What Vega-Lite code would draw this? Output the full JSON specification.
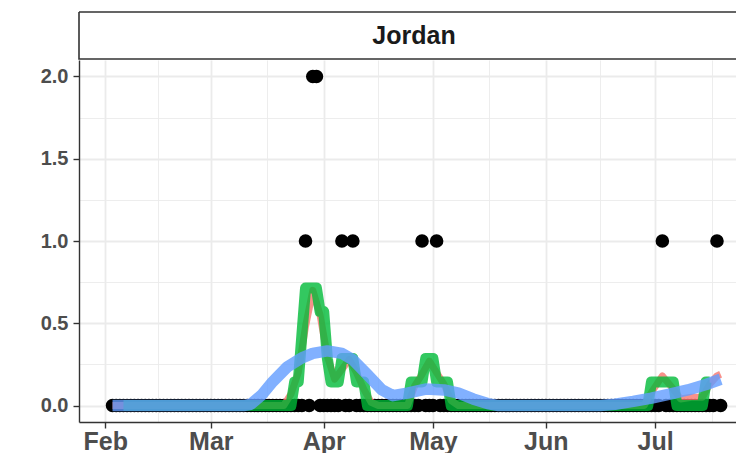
{
  "$schema": "https://vega.github.io/schema/vega-lite/v6.json",
  "padding": {"left": 5, "top": 11, "right": 0, "bottom": 0},
  "background": "white",
  "spacing": 0,
  "config": {"font": "Liberation Sans", "view": {"stroke": null}, "concat": {"spacing": 0}},
  "datasets": {
    "obs": [
      {"d":"2020-02-03","v":0},{"d":"2020-02-04","v":0},{"d":"2020-02-05","v":0},{"d":"2020-02-06","v":0},{"d":"2020-02-07","v":0},{"d":"2020-02-08","v":0},{"d":"2020-02-09","v":0},{"d":"2020-02-10","v":0},{"d":"2020-02-11","v":0},{"d":"2020-02-12","v":0},{"d":"2020-02-13","v":0},{"d":"2020-02-14","v":0},{"d":"2020-02-15","v":0},{"d":"2020-02-16","v":0},{"d":"2020-02-17","v":0},{"d":"2020-02-18","v":0},{"d":"2020-02-19","v":0},{"d":"2020-02-20","v":0},{"d":"2020-02-21","v":0},{"d":"2020-02-22","v":0},{"d":"2020-02-23","v":0},{"d":"2020-02-24","v":0},{"d":"2020-02-25","v":0},{"d":"2020-02-26","v":0},{"d":"2020-02-27","v":0},{"d":"2020-02-28","v":0},{"d":"2020-02-29","v":0},
      {"d":"2020-03-01","v":0},{"d":"2020-03-02","v":0},{"d":"2020-03-03","v":0},{"d":"2020-03-04","v":0},{"d":"2020-03-05","v":0},{"d":"2020-03-06","v":0},{"d":"2020-03-07","v":0},{"d":"2020-03-08","v":0},{"d":"2020-03-09","v":0},{"d":"2020-03-10","v":0},{"d":"2020-03-11","v":0},{"d":"2020-03-12","v":0},{"d":"2020-03-13","v":0},{"d":"2020-03-14","v":0},{"d":"2020-03-15","v":0},{"d":"2020-03-16","v":0},{"d":"2020-03-17","v":0},{"d":"2020-03-18","v":0},{"d":"2020-03-19","v":0},{"d":"2020-03-20","v":0},{"d":"2020-03-21","v":0},{"d":"2020-03-22","v":0},{"d":"2020-03-23","v":0},{"d":"2020-03-24","v":0},{"d":"2020-03-25","v":0},{"d":"2020-03-26","v":0},{"d":"2020-03-27","v":1},{"d":"2020-03-28","v":0},{"d":"2020-03-29","v":2},{"d":"2020-03-30","v":2},{"d":"2020-03-31","v":0},
      {"d":"2020-04-01","v":0},{"d":"2020-04-02","v":0},{"d":"2020-04-03","v":0},{"d":"2020-04-04","v":0},{"d":"2020-04-05","v":0},{"d":"2020-04-06","v":1},{"d":"2020-04-07","v":0},{"d":"2020-04-08","v":0},{"d":"2020-04-09","v":1},{"d":"2020-04-10","v":0},{"d":"2020-04-11","v":0},{"d":"2020-04-12","v":0},{"d":"2020-04-13","v":0},{"d":"2020-04-14","v":0},{"d":"2020-04-15","v":0},{"d":"2020-04-16","v":0},{"d":"2020-04-17","v":0},{"d":"2020-04-18","v":0},{"d":"2020-04-19","v":0},{"d":"2020-04-20","v":0},{"d":"2020-04-21","v":0},{"d":"2020-04-22","v":0},{"d":"2020-04-23","v":0},{"d":"2020-04-24","v":0},{"d":"2020-04-25","v":0},{"d":"2020-04-26","v":0},{"d":"2020-04-27","v":0},{"d":"2020-04-28","v":1},{"d":"2020-04-29","v":0},{"d":"2020-04-30","v":0},
      {"d":"2020-05-01","v":0},{"d":"2020-05-02","v":1},{"d":"2020-05-03","v":0},{"d":"2020-05-04","v":0},{"d":"2020-05-05","v":0},{"d":"2020-05-06","v":0},{"d":"2020-05-07","v":0},{"d":"2020-05-08","v":0},{"d":"2020-05-09","v":0},{"d":"2020-05-10","v":0},{"d":"2020-05-11","v":0},{"d":"2020-05-12","v":0},{"d":"2020-05-13","v":0},{"d":"2020-05-14","v":0},{"d":"2020-05-15","v":0},{"d":"2020-05-16","v":0},{"d":"2020-05-17","v":0},{"d":"2020-05-18","v":0},{"d":"2020-05-19","v":0},{"d":"2020-05-20","v":0},{"d":"2020-05-21","v":0},{"d":"2020-05-22","v":0},{"d":"2020-05-23","v":0},{"d":"2020-05-24","v":0},{"d":"2020-05-25","v":0},{"d":"2020-05-26","v":0},{"d":"2020-05-27","v":0},{"d":"2020-05-28","v":0},{"d":"2020-05-29","v":0},{"d":"2020-05-30","v":0},{"d":"2020-05-31","v":0},
      {"d":"2020-06-01","v":0},{"d":"2020-06-02","v":0},{"d":"2020-06-03","v":0},{"d":"2020-06-04","v":0},{"d":"2020-06-05","v":0},{"d":"2020-06-06","v":0},{"d":"2020-06-07","v":0},{"d":"2020-06-08","v":0},{"d":"2020-06-09","v":0},{"d":"2020-06-10","v":0},{"d":"2020-06-11","v":0},{"d":"2020-06-12","v":0},{"d":"2020-06-13","v":0},{"d":"2020-06-14","v":0},{"d":"2020-06-15","v":0},{"d":"2020-06-16","v":0},{"d":"2020-06-17","v":0},{"d":"2020-06-18","v":0},{"d":"2020-06-19","v":0},{"d":"2020-06-20","v":0},{"d":"2020-06-21","v":0},{"d":"2020-06-22","v":0},{"d":"2020-06-23","v":0},{"d":"2020-06-24","v":0},{"d":"2020-06-25","v":0},{"d":"2020-06-26","v":0},{"d":"2020-06-27","v":0},{"d":"2020-06-28","v":0},{"d":"2020-06-29","v":0},{"d":"2020-06-30","v":0},
      {"d":"2020-07-01","v":0},{"d":"2020-07-02","v":0},{"d":"2020-07-03","v":1},{"d":"2020-07-04","v":0},{"d":"2020-07-05","v":0},{"d":"2020-07-06","v":0},{"d":"2020-07-07","v":0},{"d":"2020-07-08","v":0},{"d":"2020-07-09","v":0},{"d":"2020-07-10","v":0},{"d":"2020-07-11","v":0},{"d":"2020-07-12","v":0},{"d":"2020-07-13","v":0},{"d":"2020-07-14","v":0},{"d":"2020-07-15","v":0},{"d":"2020-07-16","v":0},{"d":"2020-07-17","v":0},{"d":"2020-07-18","v":1},{"d":"2020-07-19","v":0}
    ],
    "red": [
      {"d":"2020-02-03","v":0},{"d":"2020-03-21","v":0},{"d":"2020-03-23","v":0.07},{"d":"2020-03-25","v":0.2},{"d":"2020-03-27","v":0.48},{"d":"2020-03-29","v":0.7},{"d":"2020-03-31","v":0.55},{"d":"2020-04-02","v":0.3},{"d":"2020-04-04","v":0.16},{"d":"2020-04-06","v":0.22},{"d":"2020-04-08","v":0.28},{"d":"2020-04-10","v":0.2},{"d":"2020-04-12","v":0.1},{"d":"2020-04-14","v":0.02},{"d":"2020-04-16","v":0},
      {"d":"2020-04-24","v":0},{"d":"2020-04-26","v":0.12},{"d":"2020-04-28","v":0.19},{"d":"2020-04-30","v":0.27},{"d":"2020-05-02","v":0.2},{"d":"2020-05-04","v":0.13},{"d":"2020-05-06","v":0.03},{"d":"2020-05-08","v":0},
      {"d":"2020-06-28","v":0},{"d":"2020-06-30","v":0.08},{"d":"2020-07-03","v":0.18},{"d":"2020-07-06","v":0.1},{"d":"2020-07-08","v":0.04},{"d":"2020-07-11","v":0.05},{"d":"2020-07-14","v":0.05},{"d":"2020-07-16","v":0.13},{"d":"2020-07-18","v":0.18},{"d":"2020-07-19","v":0.19}
    ],
    "green": [
      {"d":"2020-02-06","v":0},{"d":"2020-03-23","v":0},{"d":"2020-03-24","v":0.143},{"d":"2020-03-25","v":0.143},{"d":"2020-03-26","v":0.429},{"d":"2020-03-27","v":0.714},{"d":"2020-03-30","v":0.714},{"d":"2020-03-31","v":0.571},{"d":"2020-04-01","v":0.571},{"d":"2020-04-02","v":0.286},{"d":"2020-04-03","v":0.143},{"d":"2020-04-05","v":0.143},{"d":"2020-04-06","v":0.286},{"d":"2020-04-09","v":0.286},{"d":"2020-04-10","v":0.143},{"d":"2020-04-12","v":0.143},{"d":"2020-04-13","v":0},
      {"d":"2020-04-24","v":0},{"d":"2020-04-25","v":0.143},{"d":"2020-04-28","v":0.143},{"d":"2020-04-29","v":0.286},{"d":"2020-05-01","v":0.286},{"d":"2020-05-02","v":0.143},{"d":"2020-05-05","v":0.143},{"d":"2020-05-06","v":0},
      {"d":"2020-06-29","v":0},{"d":"2020-06-30","v":0.143},{"d":"2020-07-06","v":0.143},{"d":"2020-07-07","v":0},{"d":"2020-07-14","v":0},{"d":"2020-07-15","v":0.143},{"d":"2020-07-16","v":0.143}
    ],
    "blue": [
      {"d":"2020-02-03","v":0},{"d":"2020-03-10","v":0},{"d":"2020-03-12","v":0.008},{"d":"2020-03-15","v":0.065},{"d":"2020-03-18","v":0.145},{"d":"2020-03-22","v":0.235},{"d":"2020-03-26","v":0.29},{"d":"2020-03-29","v":0.317},{"d":"2020-04-02","v":0.332},{"d":"2020-04-06","v":0.317},{"d":"2020-04-09","v":0.278},{"d":"2020-04-13","v":0.188},{"d":"2020-04-17","v":0.095},{"d":"2020-04-20","v":0.06},{"d":"2020-04-24","v":0.075},{"d":"2020-04-29","v":0.1},{"d":"2020-05-04","v":0.095},{"d":"2020-05-08","v":0.075},{"d":"2020-05-12","v":0.04},{"d":"2020-05-16","v":0.012},{"d":"2020-05-19","v":0},{"d":"2020-06-16","v":0},{"d":"2020-06-20","v":0.008},{"d":"2020-06-25","v":0.025},{"d":"2020-06-30","v":0.045},{"d":"2020-07-05","v":0.07},{"d":"2020-07-10","v":0.095},{"d":"2020-07-15","v":0.128},{"d":"2020-07-19","v":0.16}
    ]
  },
  "vconcat": [
    {
      "width": 658,
      "height": 47,
      "view": {"stroke": "#333333", "strokeWidth": 1.6, "fill": "white", "strokeDash": [658, 47, 705, 0]},
      "data": {"values": [{"c": "Jordan"}]},
      "mark": {"type": "text", "font": "Liberation Sans", "fontWeight": "bold", "fontSize": 25, "color": "#1A1A1A", "dx": 6},
      "encoding": {
        "text": {"field": "c", "type": "nominal"},
        "y": {"field": "c", "type": "nominal", "axis": {"labels": false, "ticks": false, "domain": false, "grid": false, "title": null, "minExtent": 73, "maxExtent": 73}}
      }
    },
    {
      "width": 658,
      "height": 362,
      "encoding": {
        "x": {
          "field": "d", "type": "temporal",
          "scale": {"type": "utc", "domain": [{"year": 2020, "month": 1, "date": 24, "hours": 19, "utc": true}, {"year": 2020, "month": 7, "date": 23, "hours": 12, "utc": true}]},
          "axis": {
            "title": null,
            "values": [
              {"year": 2020, "month": 2, "date": 1, "utc": true},
              {"year": 2020, "month": 3, "date": 1, "utc": true},
              {"year": 2020, "month": 4, "date": 1, "utc": true},
              {"year": 2020, "month": 5, "date": 1, "utc": true},
              {"year": 2020, "month": 6, "date": 1, "utc": true},
              {"year": 2020, "month": 7, "date": 1, "utc": true},
              {"year": 2020, "month": 2, "date": 15, "hours": 12, "utc": true},
              {"year": 2020, "month": 3, "date": 16, "hours": 12, "utc": true},
              {"year": 2020, "month": 4, "date": 16, "utc": true},
              {"year": 2020, "month": 5, "date": 16, "hours": 12, "utc": true},
              {"year": 2020, "month": 6, "date": 16, "utc": true},
              {"year": 2020, "month": 7, "date": 16, "hours": 12, "utc": true}
            ],
            "labelExpr": "utcdate(datum.value) === 1 ? utcFormat(datum.value, '%b') : ''",
            "tickOpacity": {"condition": {"test": "utcdate(datum.value) !== 1", "value": 0}, "value": 1},
            "gridWidth": {"condition": {"test": "utcdate(datum.value) !== 1", "value": 0.9}, "value": 1.8},
            "gridColor": "#EBEBEB",
            "domainColor": "#333333", "domainWidth": 1.4,
            "tickColor": "#333333", "tickWidth": 1.4, "tickSize": 6,
            "labelFont": "Liberation Sans", "labelFontSize": 25, "labelFontWeight": "bold", "labelColor": "#4D4D4D", "labelPadding": 1,
            "labelOverlap": false, "labelFlush": false, "labelBound": false
          }
        },
        "y": {
          "field": "v", "type": "quantitative",
          "scale": {"domain": [-0.1, 2.1], "nice": false, "zero": false},
          "axis": {
            "title": null,
            "values": [0, 0.25, 0.5, 0.75, 1, 1.25, 1.5, 1.75, 2],
            "labelExpr": "datum.value % 0.5 === 0 ? format(datum.value, '.1f') : ''",
            "tickOpacity": {"condition": {"test": "datum.value % 0.5 !== 0", "value": 0}, "value": 1},
            "gridWidth": {"condition": {"test": "datum.value % 0.5 !== 0", "value": 0.9}, "value": 1.8},
            "gridColor": "#EBEBEB",
            "domainColor": "#333333", "domainWidth": 1.4,
            "tickColor": "#333333", "tickWidth": 1.4, "tickSize": 6,
            "labelFont": "Liberation Sans", "labelFontSize": 20, "labelFontWeight": "bold", "labelColor": "#4D4D4D", "labelPadding": 5,
            "labelOverlap": false, "labelFlush": false, "labelBound": false,
            "minExtent": 73, "maxExtent": 73
          }
        }
      },
      "layer": [
        {"data": {"name": "obs"}, "mark": {"type": "circle", "size": 185, "color": "black", "opacity": 1}},
        {"data": {"name": "red"}, "mark": {"type": "line", "color": "#F8766D", "strokeWidth": 7, "opacity": 0.8, "strokeJoin": "round"}},
        {"data": {"name": "green"}, "mark": {"type": "line", "color": "#00BA38", "strokeWidth": 11, "opacity": 0.8, "strokeJoin": "round"}},
        {"data": {"name": "blue"}, "mark": {"type": "line", "color": "#619CFF", "strokeWidth": 11.5, "opacity": 0.8, "strokeJoin": "round"}}
      ]
    }
  ]
}
